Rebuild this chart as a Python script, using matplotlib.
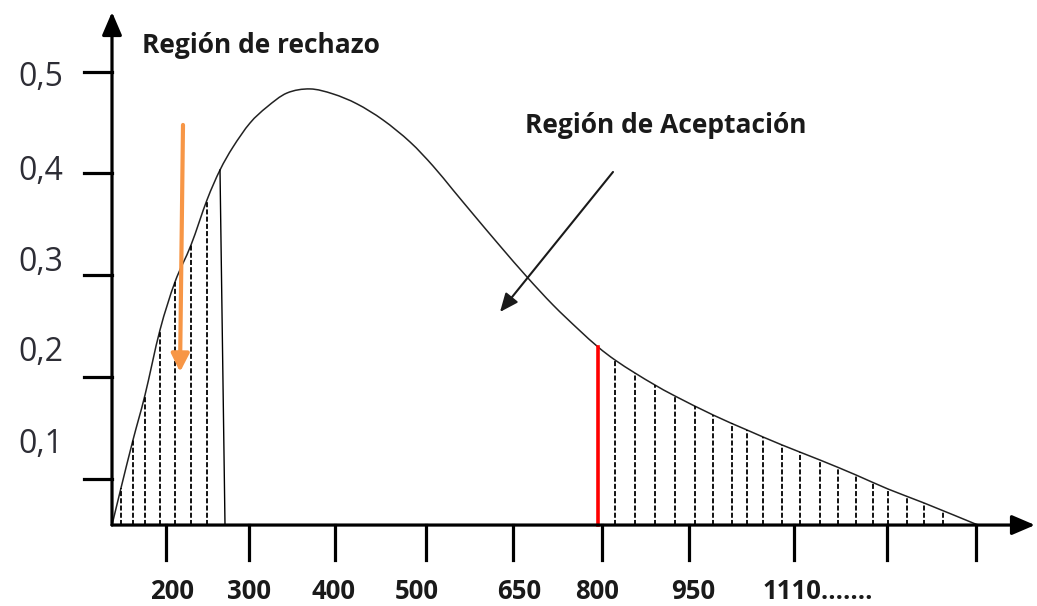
import matplotlib.pyplot as plt
from matplotlib.path import Path
from matplotlib.patches import PathPatch
import numpy as np

# curve (x = position along axis, y = density scale)
curve_x = [0, 9, 21, 33, 48, 63, 79, 95, 108, 121, 138, 155, 175, 198, 221, 245, 271,
           298, 321, 341, 361, 388, 415, 441, 466, 486, 503, 523, 543, 563, 601, 635,
           670, 708, 744, 776, 812, 866]
curve_y = [0.0545, 0.0909, 0.1381, 0.1823, 0.2462, 0.2934, 0.3297, 0.3740, 0.4034,
           0.4260, 0.4496, 0.4654, 0.4791, 0.4831, 0.4782, 0.4684, 0.4526, 0.4310,
           0.4074, 0.3838, 0.3602, 0.3288, 0.2983, 0.2708, 0.2472, 0.2295, 0.2167,
           0.2039, 0.1921, 0.1813, 0.1627, 0.1479, 0.1332, 0.1184, 0.1037, 0.0899,
           0.0762, 0.0545]

base_y = 0.0545
left_hatch = [9, 21, 33, 48, 63, 79, 95]
right_hatch = [503, 523, 543, 563, 583, 601, 620, 635, 651, 670, 688, 708, 726, 744,
               761, 776, 795, 812, 831]
left_edge = (108, 113)
critical_x = 486

x_ticks = [54, 137, 223, 314, 401, 490, 577, 682, 775, 864]
x_labels = ['200', '300', '400', '500', '650', '800', '950', '1110.......']
x_label_pos = [60, 137, 221, 305, 407, 485, 581, 651]

y_ticks = [0.5, 0.4, 0.3, 0.2, 0.1]
y_labels = ['0,5', '0,4', '0,3', '0,2', '0,1']
y_label_pos = [0.4943, 0.4015, 0.3130, 0.2236, 0.1332]


def smooth_path(xs, ys):
    # Catmull-Rom through the read points, drawn as cubic Bezier segments
    p = np.column_stack([xs, ys]).astype(float)
    ext = np.vstack([p[0], p, p[-1]])
    verts = [p[0]]
    codes = [Path.MOVETO]
    for i in range(1, len(ext) - 2):
        c1 = ext[i] + (ext[i + 1] - ext[i - 1]) / 6
        c2 = ext[i + 1] - (ext[i + 2] - ext[i]) / 6
        verts += [c1, c2, ext[i + 1]]
        codes += [Path.CURVE4] * 3
    return Path(verts, codes)


fig = plt.figure(figsize=(10.37, 6.06), dpi=100)
ax = fig.add_axes([0, 0, 1, 1])
ax.set_xlim(-112, 925)
ax.set_ylim(-0.02506, 0.5705)
ax.axis('off')

# hatching under the tails
for hx in left_hatch + right_hatch:
    top = np.interp(hx, curve_x, curve_y)
    ax.plot([hx, hx], [base_y, top], color='black', lw=1.3, ls=(0, (2.8, 1.2)))
ax.plot(left_edge, [np.interp(left_edge[0], curve_x, curve_y), base_y], color='black', lw=1.0)
ax.plot([critical_x, critical_x], [base_y, np.interp(critical_x, curve_x, curve_y)],
        color='#ff0000', lw=2.6)

ax.add_patch(PathPatch(smooth_path(curve_x, curve_y), fill=False, edgecolor='#222222', lw=1.1))

# axes with arrows
ax.annotate('', xy=(0, 0.5587), xytext=(0, base_y),
            arrowprops=dict(arrowstyle='-|>,head_length=0.7,head_width=0.3', lw=2.3,
                            color='black', mutation_scale=20, shrinkA=0, shrinkB=0))
ax.annotate('', xy=(923, base_y), xytext=(0, base_y),
            arrowprops=dict(arrowstyle='-|>,head_length=0.7,head_width=0.3', lw=2.3,
                            color='black', mutation_scale=20, shrinkA=0, shrinkB=0))

for t in x_ticks:
    ax.plot([t, t], [base_y, 0.0201], color='black', lw=2.3)
for t in y_ticks:
    ax.plot([-28, 0], [t, t], color='black', lw=2.3)

for pos, lab in zip(x_label_pos, x_labels):
    ha = 'left' if lab.startswith('1110') else 'center'
    ax.text(pos, -0.0113, lab, ha=ha, va='center', fontsize=18.5, fontweight='bold',
            family='Open Sans', color='#1a1a1a')
for pos, lab in zip(y_label_pos, y_labels):
    ax.text(-49, pos, lab, ha='right', va='center', fontsize=23, family='Open Sans',
            color='#2d2d35')

ax.text(30, 0.5253, 'Región de rechazo', ha='left', va='center', fontsize=19,
        fontweight='bold', family='Open Sans', color='#1a1a1a')
ax.text(413, 0.4468, 'Región de Aceptación', ha='left', va='center', fontsize=19,
        fontweight='bold', family='Open Sans', color='#1a1a1a')

# pointer arrows
ax.annotate('', xy=(68, 0.2049), xytext=(71, 0.4477),
            arrowprops=dict(arrowstyle='-|>,head_length=0.6,head_width=0.3', lw=3,
                            color='#f79646', mutation_scale=18, shrinkA=0, shrinkB=0))
ax.annotate('', xy=(388, 0.2639), xytext=(501, 0.4015),
            arrowprops=dict(arrowstyle='-|>,head_length=0.7,head_width=0.3', lw=1.5,
                            color='#1a1a1a', mutation_scale=16, shrinkA=0, shrinkB=0))

fig.savefig('out.png', dpi=100)
